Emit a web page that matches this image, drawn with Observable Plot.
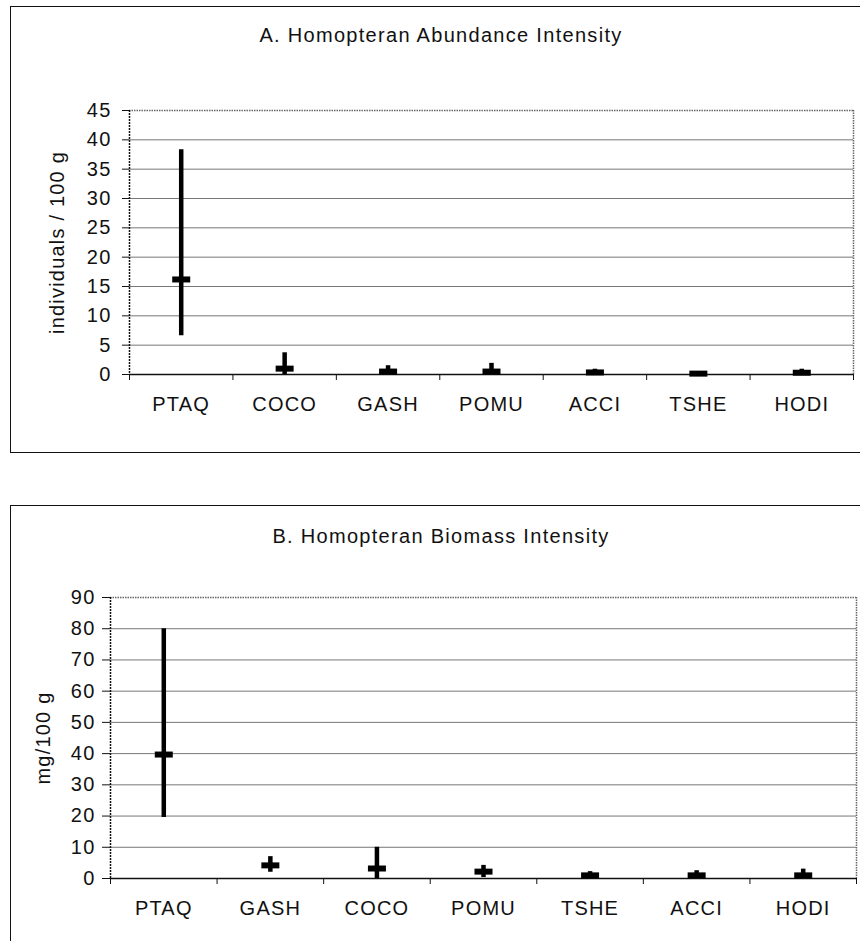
<!DOCTYPE html>
<html><head><meta charset="utf-8">
<script src="https://cdn.jsdelivr.net/npm/d3@7"></script>
<script src="https://cdn.jsdelivr.net/npm/@observablehq/plot@0.6"></script>
<style>
body{margin:0;background:#fff;font-family:"Liberation Sans",Arial,sans-serif;}
#page{position:relative;width:860px;height:941px;overflow:hidden;background:#fff;}
.box{position:absolute;border-style:solid;border-color:#111;border-width:0;}
.title{position:absolute;width:860px;text-align:center;font-size:20px;line-height:20px;letter-spacing:1.3px;color:#111;}
.chart{position:absolute;left:0;}
</style></head><body>
<div id="page">
  <div class="box" style="left:10px;top:6px;width:870px;height:445px;border-width:1.5px 0 1.5px 1.5px;"></div>
  <div class="box" style="left:10px;top:505px;width:870px;height:460px;border-width:1.5px 0 0 1.5px;"></div>
  <div class="title" style="left:11px;top:25px;">A. Homopteran Abundance Intensity</div>
  <div class="title" style="left:11px;top:526px;">B. Homopteran Biomass Intensity</div>
  <div class="chart" id="chartA" style="top:0px;"></div>
  <div class="chart" id="chartB" style="top:480px;"></div>
</div>
<script>
// Panel A: abundance (individuals / 100 g)
const categoriesA = ["PTAQ", "COCO", "GASH", "POMU", "ACCI", "TSHE", "HODI"];
const meanA = [16.2, 1.0, 0.5, 0.5, 0.35, 0.15, 0.3];
const lowA  = [6.6, 0, 0, 0, 0, 0, 0];
const highA = [38.3, 3.7, 1.5, 1.9, 0.9, 0.4, 0.9];
const yTicksA = [0, 5, 10, 15, 20, 25, 30, 35, 40, 45];

// Panel B: biomass (mg/100 g)
const categoriesB = ["PTAQ", "GASH", "COCO", "POMU", "TSHE", "ACCI", "HODI"];
const meanB = [39.7, 4.2, 3.2, 2.2, 1.0, 1.0, 1.0];
const lowB  = [19.5, 2.0, 0, 0.3, 0, 0, 0];
const highB = [80, 7.0, 10, 4.2, 2.2, 2.5, 3.0];
const yTicksB = [0, 10, 20, 30, 40, 50, 60, 70, 80, 90];

const barSymbol = {draw(context) { context.rect(-9, -3, 18, 6); }};

function panel({cats, mean, low, high, yTicks, yLabel, width, height, margins, yTickSize, yTickPadding, labelOffset, xPadding}) {
  const data = cats.map((c, i) => ({pos: i + 0.5, cat: c, mean: mean[i], low: low[i], high: high[i]}));
  const yMax = yTicks[yTicks.length - 1];
  return Plot.plot({
    width, height,
    marginLeft: margins[0], marginRight: margins[1], marginTop: margins[2], marginBottom: margins[3],
    style: {fontFamily: '"Liberation Sans", Arial, sans-serif', fontSize: "20px", color: "#111", background: "transparent", letterSpacing: "1.2px"},
    x: {domain: [0, cats.length], label: null},
    y: {domain: [0, yMax], label: null},
    marks: [
      Plot.gridY(yTicks.slice(1, -1), {stroke: "#777", strokeOpacity: 1, strokeWidth: 1}),
      Plot.ruleY([yMax], {stroke: "#666", strokeWidth: 1.5, strokeDasharray: "1.5,1"}),
      Plot.ruleX([cats.length], {stroke: "#666", strokeWidth: 1.5, strokeDasharray: "1.5,1"}),
      Plot.ruleX([0], {stroke: "#111", strokeWidth: 1.5, strokeDasharray: "2,1"}),
      Plot.ruleY([0], {stroke: "#111", strokeWidth: 1.5}),
      Plot.axisY({ticks: yTicks, tickSize: yTickSize, tickPadding: yTickPadding, stroke: "#111", label: yLabel, labelAnchor: "center", labelArrow: "none", labelOffset}),
      Plot.axisX({ticks: d3.range(cats.length + 1), tickSize: 6, tickFormat: () => "", stroke: "#111", label: null}),
      Plot.axisX({ticks: data.map(d => d.pos), tickSize: 0, tickPadding: xPadding, tickFormat: v => cats[Math.floor(v)], label: null}),
      Plot.ruleX(data, {x: "pos", y1: "low", y2: "high", stroke: "#000", strokeWidth: 4.5}),
      Plot.dot(data, {x: "pos", y: "mean", symbol: barSymbol, fill: "#000", stroke: null})
    ]
  });
}

document.getElementById("chartA").append(panel({
  cats: categoriesA, mean: meanA, low: lowA, high: highA, yTicks: yTicksA,
  yLabel: "individuals / 100 g", width: 860, height: 460,
  margins: [129, 7, 110, 86], yTickSize: 7, yTickPadding: 11, labelOffset: 80, xPadding: 22
}));
document.getElementById("chartB").append(panel({
  cats: categoriesB, mean: meanB, low: lowB, high: highB, yTicks: yTicksB,
  yLabel: "mg/100 g", width: 860, height: 461,
  margins: [110, 4, 117, 63], yTickSize: 8, yTickPadding: 7, labelOffset: 75, xPadding: 22
}));
</script>
</body></html>
